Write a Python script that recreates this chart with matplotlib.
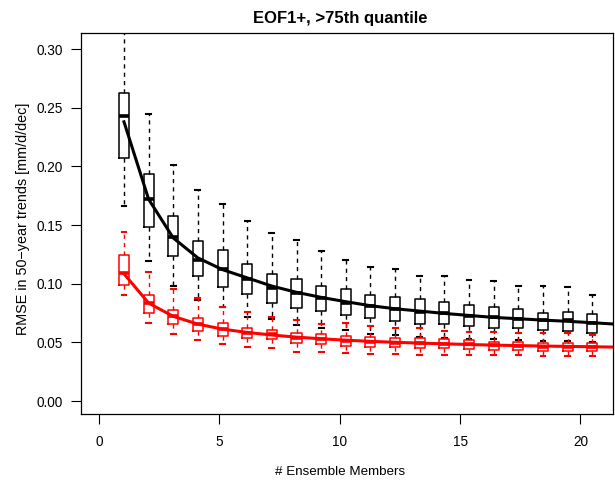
import numpy as np
import matplotlib
matplotlib.use("Agg")
import matplotlib.pyplot as plt

plt.rcParams['font.family'] = ['Liberation Sans', 'DejaVu Sans']

members = np.arange(1, 21)

# black boxes (all members)
blk_whislo = [0.166, 0.119, 0.098, 0.086, 0.080, 0.072, 0.070, 0.065, 0.062, 0.061,
              0.057, 0.056, 0.055, 0.054, 0.053, 0.053, 0.052, 0.051, 0.051, 0.050]
blk_q1 = [0.207, 0.1486, 0.1236, 0.1066, 0.0972, 0.091, 0.084, 0.0796, 0.077, 0.073,
          0.0708, 0.0685, 0.066, 0.0656, 0.0639, 0.0625, 0.0625, 0.0605, 0.060, 0.0577]
blk_med = [0.243, 0.172, 0.1395, 0.120, 0.1122, 0.104, 0.096, 0.0918, 0.0881, 0.0838,
           0.081, 0.0784, 0.0761, 0.0747, 0.0727, 0.0713, 0.0699, 0.0688, 0.069, 0.0662]
blk_q3 = [0.2626, 0.1935, 0.1577, 0.1367, 0.1284, 0.1168, 0.1083, 0.104, 0.0983, 0.0957,
          0.0901, 0.0884, 0.0867, 0.0841, 0.0818, 0.0804, 0.0784, 0.075, 0.0756, 0.0739]
blk_whishi = [0.34, 0.245, 0.201, 0.180, 0.1677, 0.1537, 0.143, 0.137, 0.1279, 0.1202,
              0.114, 0.1128, 0.1063, 0.1066, 0.1029, 0.102, 0.098, 0.098, 0.0975, 0.0904]

# red boxes
red_whislo = [0.0904, 0.0668, 0.0571, 0.052, 0.0486, 0.0463, 0.0449, 0.042, 0.042, 0.0406,
              0.040, 0.040, 0.0392, 0.0392, 0.0392, 0.0392, 0.0392, 0.0386, 0.0386, 0.0386]
red_q1 = [0.0992, 0.0753, 0.0654, 0.060, 0.0557, 0.054, 0.0531, 0.0492, 0.0486, 0.0472,
          0.0463, 0.0463, 0.0455, 0.0449, 0.0443, 0.0435, 0.0435, 0.0429, 0.0429, 0.0426]
red_med = [0.1089, 0.0833, 0.0725, 0.0656, 0.0611, 0.0582, 0.0568, 0.0534, 0.0529, 0.0511,
           0.0506, 0.0497, 0.0494, 0.0489, 0.0486, 0.0474, 0.0472, 0.0463, 0.0463, 0.0463]
red_q3 = [0.1242, 0.0904, 0.0776, 0.071, 0.0662, 0.0625, 0.0605, 0.0577, 0.0571, 0.0554,
          0.0548, 0.0534, 0.0534, 0.0526, 0.052, 0.0506, 0.050, 0.0497, 0.0497, 0.0492]
red_whishi = [0.1443, 0.110, 0.0952, 0.0875, 0.0799, 0.0756, 0.0719, 0.069, 0.0656, 0.0662,
              0.0639, 0.062, 0.062, 0.060, 0.059, 0.059, 0.0577, 0.0577, 0.0577, 0.0563]

# fitted curves
fit_x = np.arange(1, 22)
blk_fit = [0.238, 0.172, 0.139, 0.122, 0.112, 0.105, 0.098, 0.0927, 0.0884, 0.0847, 0.0813,
           0.0787, 0.0767, 0.0747, 0.073, 0.0713, 0.0702, 0.069, 0.068, 0.0668, 0.0655]
red_fit = [0.1085, 0.0835, 0.0722, 0.0656, 0.0613, 0.0585, 0.0563, 0.0545, 0.0531, 0.0519,
           0.0509, 0.0501, 0.0494, 0.0488, 0.0482, 0.0477, 0.0473, 0.0469, 0.0466, 0.0463, 0.046]


def stats(lo, q1, med, q3, hi):
    return [dict(whislo=a, q1=b, med=c, q3=d, whishi=e, fliers=[])
            for a, b, c, d, e in zip(lo, q1, med, q3, hi)]


fig = plt.figure(figsize=(6.15, 4.8), dpi=100)
ax = fig.add_axes([0.1317, 0.1375, 0.865, 0.7938])
ax.set_xlim(-0.748, 21.35)
ax.set_ylim(-0.011, 0.3137)
ax.set_xticks([0, 5, 10, 15, 20])
ax.set_yticks([0.0, 0.05, 0.10, 0.15, 0.20, 0.25, 0.30])
ax.set_yticklabels(["0.00", "0.05", "0.10", "0.15", "0.20", "0.25", "0.30"])
ax.tick_params(direction='out', length=7, width=0.8, labelsize=9.8)
ax.tick_params(axis='y', pad=6)
ax.tick_params(axis='x', pad=8)
for s in ax.spines.values():
    s.set_linewidth(0.9)

# R-style margin texts, placed in figure coordinates
fig.text(340 / 615, 1 - 19 / 480, "EOF1+, >75th quantile", fontsize=12,
         fontweight='bold', ha='center', va='center')
fig.text(340 / 615, 1 - 472 / 480, "# Ensemble Members", fontsize=9.6,
         ha='center', va='center')
fig.text(23 / 615, 1 - 219 / 480, "RMSE in 50\u2212year trends [mm/d/dec]",
         fontsize=10.4, rotation=90, ha='center', va='center')

# boxes live on their own x scale
axb = ax.twiny()
axb.set_xlim(-0.744, 20.84)
axb.set_ylim(ax.get_ylim())
axb.axis('off')

for col, st in [('black', stats(blk_whislo, blk_q1, blk_med, blk_q3, blk_whishi)),
                ('red', stats(red_whislo, red_q1, red_med, red_q3, red_whishi))]:
    axb.bxp(st, positions=members, widths=0.41, capwidths=0.2, showfliers=False,
            manage_ticks=False,
            boxprops=dict(color=col, lw=1.1),
            whiskerprops=dict(color=col, lw=1.0, linestyle=(0, (3, 3))),
            capprops=dict(color=col, lw=1.5),
            medianprops=dict(color=col, lw=2.6, solid_capstyle='butt'))

axb.plot(fit_x, blk_fit, color='black', lw=2.2, zorder=5)
axb.plot(fit_x, red_fit, color='red', lw=2.2, zorder=5)

fig.savefig("out.png", dpi=100)
